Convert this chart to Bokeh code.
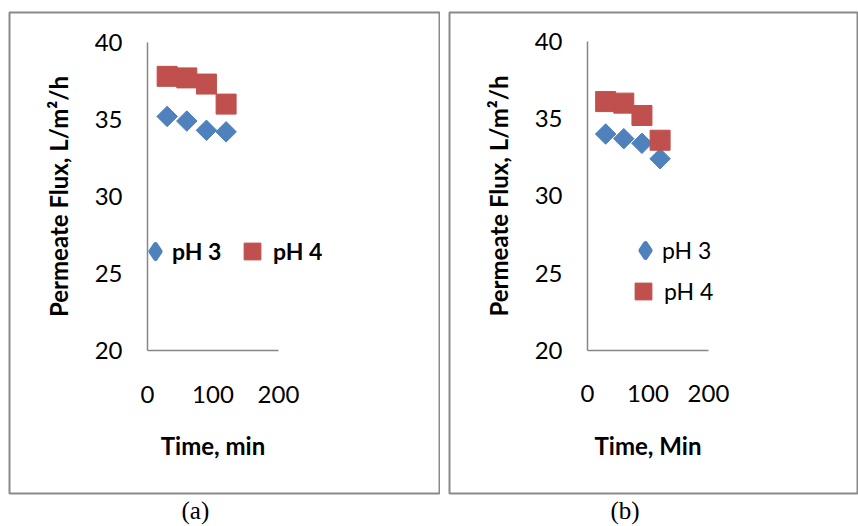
from bokeh.plotting import figure
from bokeh.layouts import row
from bokeh.models import Range1d, Legend, LegendItem, FixedTicker, Title
from bokeh.embed import file_html
from bokeh.resources import INLINE
import math

# ---- data ----
time_min = [30, 60, 90, 120]
a_ph3 = [35.2, 34.9, 34.3, 34.2]
a_ph4 = [37.8, 37.7, 37.3, 36.0]
b_ph3 = [34.0, 33.7, 33.4, 32.4]
b_ph4 = [36.1, 36.0, 35.2, 33.6]
x_ticks = [0, 100, 200]
y_ticks = [20, 25, 30, 35, 40]
series_names = ["pH 3", "pH 4"]
x_titles = ["Time, min", "Time, Min"]
y_title = "Permeate Flux, L/m\u00b2/h"
captions = ["(a)", "(b)"]

X0, X1 = 0, 200
Y0, Y1 = 20, 40

BLUE = "#4F81BD"
RED = "#C0504D"
AXIS = "#868686"
BOX = "#8a8a8a"
FONT = "Lato"


def make_panel(width, box, axis_px, ph3, ph4, xtitle, caption, cap_left,
               legend_bold, legend_pos):
    bl, br, bt, bb = box              # frame (panel box) in canvas pixels
    ax_l, ax_r, ax_t, ax_b = axis_px  # where x=0/200 and y=40/20 fall
    sx = (X1 - X0) / (ax_r - ax_l)
    sy = (Y1 - Y0) / (ax_b - ax_t)
    xr = Range1d(X0 + (bl - ax_l) * sx, X0 + (br - ax_l) * sx)
    yr = Range1d(Y0 - (bb - ax_b) * sy, Y1 + (ax_t - bt) * sy)

    p = figure(width=width, height=526, output_backend="svg", toolbar_location=None,
               x_range=xr, y_range=yr,
               min_border_left=bl, min_border_right=width - br,
               min_border_top=bt, min_border_bottom=526 - bb)
    p.outline_line_color = BOX
    p.outline_line_width = 2
    p.grid.visible = False
    p.background_fill_color = "white"
    p.border_fill_color = "white"

    for ax in (p.xaxis[0], p.yaxis[0]):
        ax.axis_line_color = AXIS
        ax.axis_line_width = 1.5
        ax.major_tick_line_color = None
        ax.minor_tick_line_color = None
        ax.major_tick_out = 0
        ax.major_tick_in = 0
        ax.minor_tick_out = 0
        ax.minor_tick_in = 0
        ax.major_label_text_font = FONT
        ax.major_label_text_font_size = "24px"
        ax.major_label_text_color = "black"
        ax.axis_label_text_font = FONT
        ax.axis_label_text_font_size = "24px"
        ax.axis_label_text_font_style = "bold"
        ax.axis_label_text_color = "black"
    p.xaxis.ticker = FixedTicker(ticks=x_ticks)
    p.yaxis.ticker = FixedTicker(ticks=y_ticks)
    p.xaxis.bounds = (X0, X1)
    p.yaxis.bounds = (Y0, Y1)
    p.xaxis.fixed_location = Y0
    p.yaxis.fixed_location = X0
    p.xaxis.major_label_standoff = 35
    p.yaxis.major_label_standoff = 25
    p.xaxis.axis_label = xtitle
    p.yaxis.axis_label = y_title
    p.xaxis.axis_label_standoff = 25
    p.yaxis.axis_label_standoff = 19

    p.scatter(time_min, ph3, marker="square", size=14.5, angle=math.pi / 4,
              fill_color=BLUE, line_color=BLUE)
    r4 = p.scatter(time_min, ph4, marker="square", size=20,
                   fill_color=RED, line_color=RED)
    # legend key for the diamond series (zero-size in the plot, hidden under
    # the diamonds; it is only seen in the legend)
    k3 = p.scatter(time_min, ph3, marker="diamond", size=0,
                   fill_color=BLUE, line_color=BLUE, line_width=5, line_join="round")

    for rend, name, gsize, loc in zip((k3, r4), series_names, (34, 42), legend_pos):
        leg = Legend(items=[LegendItem(label=name, renderers=[rend])], location=loc,
                     glyph_width=gsize, glyph_height=gsize, label_height=gsize,
                     label_width=52, label_standoff=0, padding=0, margin=0, spacing=0,
                     border_line_color=None, background_fill_alpha=0,
                     label_text_font=FONT, label_text_font_size="23px",
                     label_text_font_style="bold" if legend_bold else "normal",
                     label_text_color="black")
        p.add_layout(leg)

    p.add_layout(Title(text=caption, align="left", offset=cap_left - bl, standoff=2,
                       text_font="Liberation Serif", text_font_size="25px",
                       text_font_style="normal", text_color="black"), "below")
    return p


pa = make_panel(440, (9, 439, 12, 494), (147, 278, 42, 351), a_ph3, a_ph4,
                x_titles[0], captions[0], 181, True, [(129, 225), (222, 221)])
pb = make_panel(418, (9, 418, 9, 493), (147, 268, 38, 349), b_ph3, b_ph4,
                x_titles[1], captions[1], 170, False, [(179, 226), (173, 181)])

layout = row(pa, pb)
open("out.html", "w").write(file_html(layout, INLINE))
